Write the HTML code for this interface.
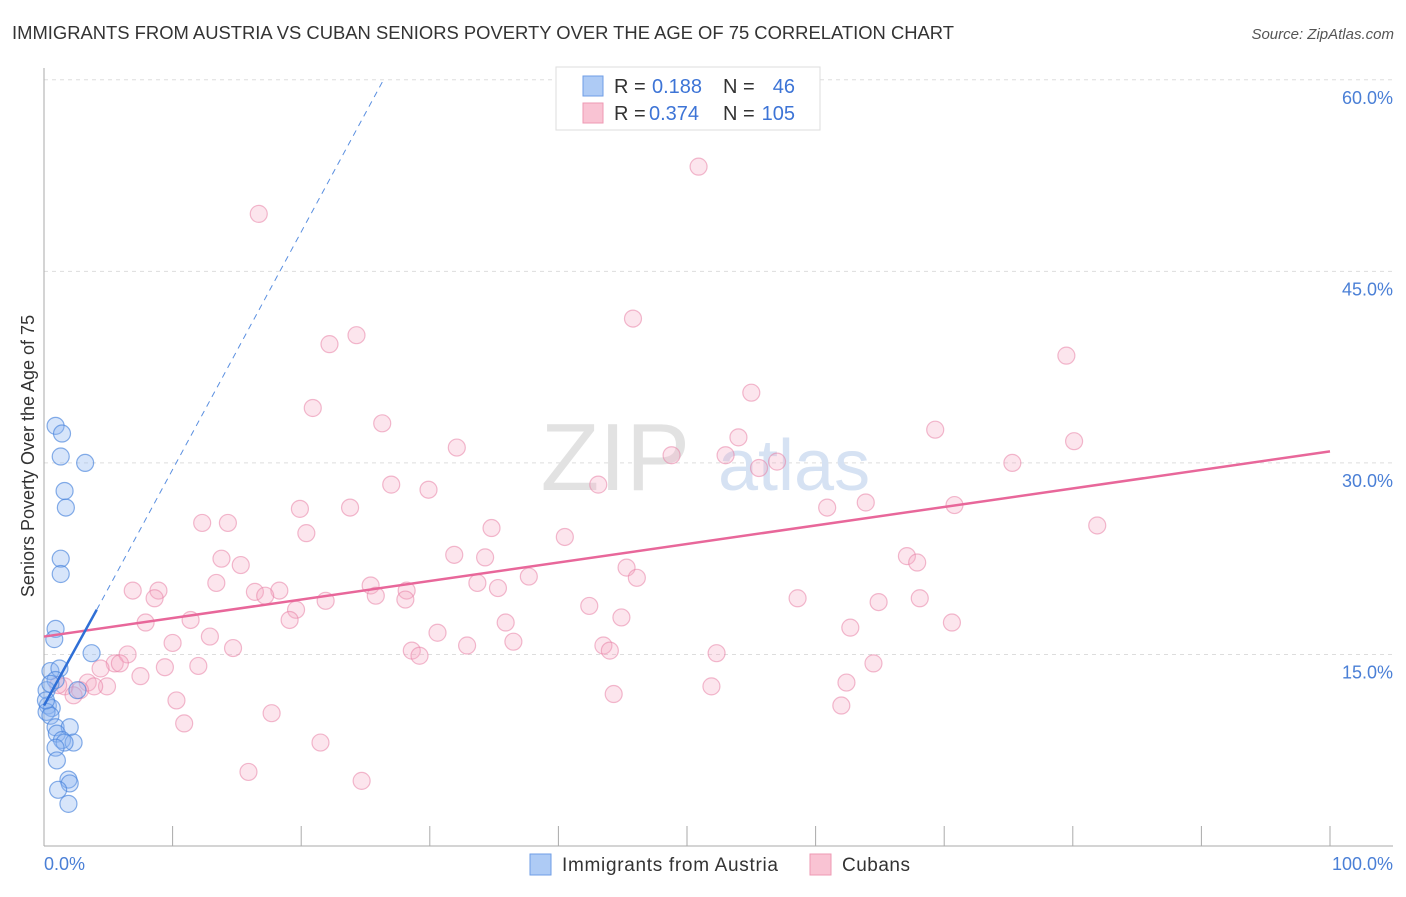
<!DOCTYPE html>
<html><head><meta charset="utf-8"><style>
body{margin:0;background:#fff;font-family:"Liberation Sans",sans-serif;}
svg text{font-family:"Liberation Sans",sans-serif;}
</style></head><body>
<svg width="1406" height="892" viewBox="0 0 1406 892">
<text x="12" y="39" font-size="18" fill="#333" textLength="942" lengthAdjust="spacingAndGlyphs">IMMIGRANTS FROM AUSTRIA VS CUBAN SENIORS POVERTY OVER THE AGE OF 75 CORRELATION CHART</text>
<text x="1394" y="39" font-size="15" fill="#555" text-anchor="end" font-style="italic">Source: ZipAtlas.com</text>
<g id="grid"></g>
<text x="690" y="490" font-size="96" fill="#e2e2e2" text-anchor="end" font-family="Liberation Serif">ZIP</text>
<text x="718" y="490" font-size="72" fill="#d6e2f3">atlas</text>
<g id="axes"></g>
<g id="pts"></g>
<g id="lines"></g>
<text transform="translate(34,456) rotate(-90)" font-size="18" fill="#333" text-anchor="middle">Seniors Poverty Over the Age of 75</text>
<text x="44" y="870" font-size="18" fill="#4a7fd6">0.0%</text>
<text x="1393" y="870" font-size="18" fill="#4a7fd6" text-anchor="end">100.0%</text>
<g>
<rect x="556" y="67" width="264" height="63" fill="#fff" stroke="#ddd"/>
<rect x="583" y="76" width="20" height="20" fill="#aecbf5" stroke="#6f9ee6"/>
<rect x="583" y="103" width="20" height="20" fill="#f9c3d3" stroke="#ee98b3"/>
<text x="614" y="93" font-size="20" fill="#333">R =</text>
<text x="652" y="93" font-size="20" fill="#3d74d6">0.188</text>
<text x="723" y="93" font-size="20" fill="#333">N =</text>
<text x="795" y="93" font-size="20" fill="#3d74d6" text-anchor="end">46</text>
<text x="614" y="120" font-size="20" fill="#333">R =</text>
<text x="649" y="120" font-size="20" fill="#3d74d6">0.374</text>
<text x="723" y="120" font-size="20" fill="#333">N =</text>
<text x="795" y="120" font-size="20" fill="#3d74d6" text-anchor="end">105</text>
</g>
<g>
<rect x="530" y="854" width="21" height="21" fill="#aecbf5" stroke="#6f9ee6"/>
<text x="562" y="871" font-size="19" fill="#333" textLength="216">Immigrants from Austria</text>
<rect x="810" y="854" width="21" height="21" fill="#f9c3d3" stroke="#ee98b3"/>
<text x="842" y="871" font-size="19" fill="#333" textLength="68">Cubans</text>
</g>
</svg>
<script>
const yTicks=[15,30,45,60];
const yTickLabels=["15.0%","30.0%","45.0%","60.0%"];
const xTicks=[10,20,30,40,50,60,70,80,90,100];
const blueX=[0.9,1.4,1.3,3.2,1.6,1.7,1.3,1.3,0.9,0.8,3.7,0.5,1.2,0.9,0.2,0.3,0.6,0.2,0.5,0.9,2.0,1.0,1.4,2.3,1.6,0.9,1.0,1.9,2.0,1.1,1.9,0.15,0.5,2.6];
const blueY=[32.9,32.3,30.5,30.0,27.8,26.5,22.5,21.3,17.0,16.2,15.1,13.7,13.9,13.0,12.2,11.0,10.8,10.5,10.2,9.3,9.3,8.8,8.3,8.1,8.1,7.7,6.7,5.2,4.9,4.4,3.3,11.4,12.7,12.2];
const pinkPx=[[698,167],[259,214],[633,318],[356,335],[329,344],[1066,356],[313,408],[751,393],[382,423],[739,437],[935,430],[457,448],[1074,441],[671,455],[726,455],[777,461],[759,468],[1012,463],[391,484],[428,490],[598,484],[300,509],[350,507],[866,502],[827,507],[954,505],[202,523],[228,523],[491,528],[1097,525],[306,533],[565,537],[454,555],[485,557],[222,559],[241,565],[907,556],[917,562],[626,567],[529,577],[216,583],[371,585],[637,578],[133,590],[159,590],[477,583],[498,588],[255,592],[279,590],[265,596],[154,598],[407,590],[376,596],[405,599],[797,598],[879,602],[920,598],[325,601],[589,606],[296,610],[190,620],[290,620],[506,623],[621,618],[146,623],[952,622],[850,628],[210,637],[437,633],[172,643],[514,642],[467,646],[603,645],[610,651],[233,648],[412,650],[420,656],[717,653],[127,655],[115,663],[120,663],[100,668],[198,666],[165,667],[873,664],[140,676],[88,682],[64,686],[107,687],[58,685],[94,687],[80,690],[74,695],[711,687],[614,694],[847,682],[176,700],[841,706],[272,713],[184,723],[321,742],[248,772],[361,781]];
const pinkX=pinkPx.map(p=>+((p[0]-44)/12.86).toFixed(1));
const pinkY=pinkPx.map(p=>+((846-p[1])/12.77).toFixed(1));
const pinkTrend=[[0,16.4],[100,30.9]];
const blueTrend=[[0,11.0],[4.1,18.5]];
const blueDash=[[4.1,18.5],[26.4,60]];
const X0=44,X1=1330,Y0=846,YS=12.77;
const sx=v=>X0+(X1-X0)*v/100, sy=v=>Y0-v*YS;
const NS="http://www.w3.org/2000/svg";
function mk(t,a,p){const e=document.createElementNS(NS,t);for(const k in a)e.setAttribute(k,a[k]);p.appendChild(e);return e;}
const grid=document.getElementById('grid'),axes=document.getElementById('axes'),pts=document.getElementById('pts'),lines=document.getElementById('lines');
yTicks.forEach((v,i)=>{
 const l=mk('line',{x1:X0,x2:1393,y1:sy(v),y2:sy(v),stroke:'#ddd','stroke-dasharray':'4,4'},grid);
 
 
 const t=mk('text',{x:1393,y:sy(v)+24,'font-size':18,fill:'#4a7fd6','text-anchor':'end'},grid);
 t.textContent=yTickLabels[i];
 
 
});
let a=mk('line',{x1:X0,x2:X0,y1:68,y2:Y0,stroke:'#aaa'},axes);


a=mk('line',{x1:X0,x2:1393,y1:Y0,y2:Y0,stroke:'#aaa'},axes);


xTicks.forEach(v=>{
 const t=mk('line',{x1:sx(v),x2:sx(v),y1:Y0-20,y2:Y0,stroke:'#aaa'},axes);
 
 
});
pinkX.forEach((x,i)=>{
 const c=mk('circle',{cx:sx(x),cy:sy(pinkY[i]),r:8.5,fill:'rgba(246,170,195,0.3)',stroke:'rgba(232,130,165,0.55)','stroke-width':1.2},pts);
 
 
});
blueX.forEach((x,i)=>{
 const c=mk('circle',{cx:sx(x),cy:sy(blueY[i]),r:8.5,fill:'rgba(140,180,240,0.35)',stroke:'rgba(70,130,220,0.65)','stroke-width':1.2},pts);
 
 
});
let ln=mk('line',{x1:sx(pinkTrend[0][0]),y1:sy(pinkTrend[0][1]),x2:sx(pinkTrend[1][0]),y2:sy(pinkTrend[1][1]),stroke:'#e8679a','stroke-width':2.5},lines);


ln=mk('line',{x1:sx(blueDash[0][0]),y1:sy(blueDash[0][1]),x2:sx(blueDash[1][0]),y2:sy(blueDash[1][1]),stroke:'#5a8fe0','stroke-width':1,'stroke-dasharray':'6,5'},lines);


ln=mk('line',{x1:sx(blueTrend[0][0]),y1:sy(blueTrend[0][1]),x2:sx(blueTrend[1][0]),y2:sy(blueTrend[1][1]),stroke:'#2f6fd6','stroke-width':2.5},lines);


</script>
</body></html>
